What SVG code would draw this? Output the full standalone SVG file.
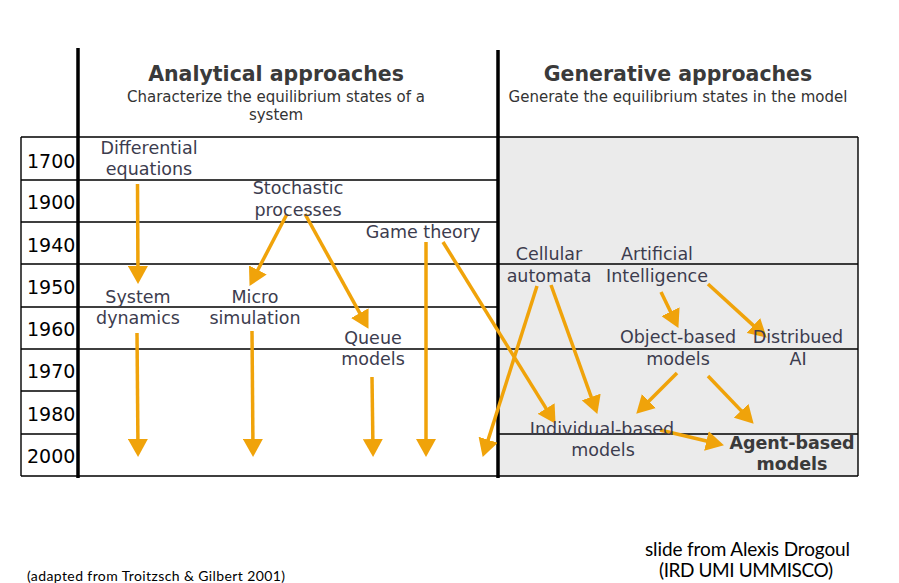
<svg xmlns="http://www.w3.org/2000/svg" width="899" height="583" viewBox="0 0 899 583">
<style>
.thin{stroke:#000;stroke-width:1.4;fill:none}
.thick{stroke:#000;stroke-width:3.5;fill:none}
.yr{font-family:"DejaVu Sans",sans-serif;font-size:19px;fill:#000}
.lbl{font-family:"DejaVu Sans",sans-serif;font-size:17.5px;fill:#3c3c4e;text-anchor:middle}
.bold{font-weight:bold;fill:#3a3a3a}
.title{font-family:"DejaVu Sans",sans-serif;font-size:20.5px;font-weight:bold;fill:#3a3a3a;text-anchor:middle}
.sub{font-family:"DejaVu Sans",sans-serif;font-size:15px;fill:#333;text-anchor:middle}
.foot{font-family:Lato,"Open Sans",sans-serif;fill:#000}
.arr{stroke:#f0a30a;stroke-width:3.5;fill:none;marker-end:url(#ah)}
</style>
<defs>
<marker id="ah" markerUnits="userSpaceOnUse" markerWidth="18" markerHeight="20" viewBox="0 0 18 20" refX="12" refY="10" orient="auto">
<path d="M0,0 L18,10 L0,20 z" fill="#f0a30a"/>
</marker>
</defs>
<rect width="899" height="583" fill="#fff"/>
<g id="table">
<rect x="498" y="137" width="360" height="339" fill="#ebebeb"/>
<path class="thin" d="M21,137H858M21,180H498M21,222H498M21,264H858M21,307H498M21,349H858M21,391H78M21,434H78M498,434H858M21,476H858M21,137V476M858,137V476"/>
<path class="thick" d="M78,48V478M498,50V478"/>
</g>
<g id="years">
<text class="yr" x="27" y="168">1700</text>
<text class="yr" x="27" y="209">1900</text>
<text class="yr" x="27" y="252">1940</text>
<text class="yr" x="27" y="294">1950</text>
<text class="yr" x="27" y="336">1960</text>
<text class="yr" x="27" y="378">1970</text>
<text class="yr" x="27" y="421">1980</text>
<text class="yr" x="27" y="463">2000</text>
</g>
<g id="header-analytical">
<text class="title" x="276" y="81">Analytical approaches</text>
<text class="sub" x="276" y="102">Characterize the equilibrium states of a</text>
<text class="sub" x="276" y="120">system</text>
</g>
<g id="header-generative">
<text class="title" x="678" y="81">Generative approaches</text>
<text class="sub" x="678" y="102">Generate the equilibrium states in the model</text>
</g>
<g id="connectors">
<path class="arr" d="M137.5,184L138,278"/>
<path class="arr" d="M287,214L252.3,280.6"/>
<path class="arr" d="M305,214L365.6,323.6"/>
<path class="arr" d="M426,242L426,451"/>
<path class="arr" d="M443,242L552.4,418.7"/>
<path class="arr" d="M537,286L484.5,451.2"/>
<path class="arr" d="M551,285L595.3,408.3"/>
<path class="arr" d="M661,292L675.8,322.5"/>
<path class="arr" d="M708,284L762.3,333.6"/>
<path class="arr" d="M677,373L640.5,409.5"/>
<path class="arr" d="M708,376L749.5,419.4"/>
<path class="arr" d="M660,430L718.1,443.8"/>
<path class="arr" d="M137,333L138,451"/>
<path class="arr" d="M252,331L253,451"/>
<path class="arr" d="M372,377L373,451"/>
</g>
<g id="differential-equations">
<text class="lbl" x="149" y="154">Differential</text>
<text class="lbl" x="149" y="175">equations</text>
</g>
<g id="stochastic-processes">
<text class="lbl" x="298" y="194">Stochastic</text>
<text class="lbl" x="298" y="216">processes</text>
</g>
<g id="game-theory">
<text class="lbl" x="423" y="238">Game theory</text>
</g>
<g id="system-dynamics">
<text class="lbl" x="138" y="303">System</text>
<text class="lbl" x="138" y="324">dynamics</text>
</g>
<g id="micro-simulation">
<text class="lbl" x="255" y="303">Micro</text>
<text class="lbl" x="255" y="324">simulation</text>
</g>
<g id="queue-models">
<text class="lbl" x="373" y="344">Queue</text>
<text class="lbl" x="373" y="365">models</text>
</g>
<g id="cellular-automata">
<text class="lbl" x="549" y="260">Cellular</text>
<text class="lbl" x="549" y="282">automata</text>
</g>
<g id="artificial-intelligence">
<text class="lbl" x="657" y="260">Artificial</text>
<text class="lbl" x="657" y="282">Intelligence</text>
</g>
<g id="object-based-models">
<text class="lbl" x="678" y="343">Object-based</text>
<text class="lbl" x="678" y="365">models</text>
</g>
<g id="distributed-ai">
<text class="lbl" x="798" y="343">Distribued</text>
<text class="lbl" x="798" y="365">AI</text>
</g>
<g id="individual-based-models">
<text class="lbl" x="602" y="435">Individual-based</text>
<text class="lbl" x="603" y="456">models</text>
</g>
<g id="agent-based-models">
<text class="lbl bold" x="792" y="449">Agent-based</text>
<text class="lbl bold" x="792" y="470">models</text>
</g>
<g id="footer">
<text class="foot" x="27" y="581" font-size="14" textLength="258">(adapted from Troitzsch &amp; Gilbert 2001)</text>
<text class="foot" x="645" y="556" font-size="19" textLength="205">slide from Alexis Drogoul</text>
<text class="foot" x="659" y="577" font-size="19" textLength="174">(IRD UMI UMMISCO)</text>
</g>
</svg>
